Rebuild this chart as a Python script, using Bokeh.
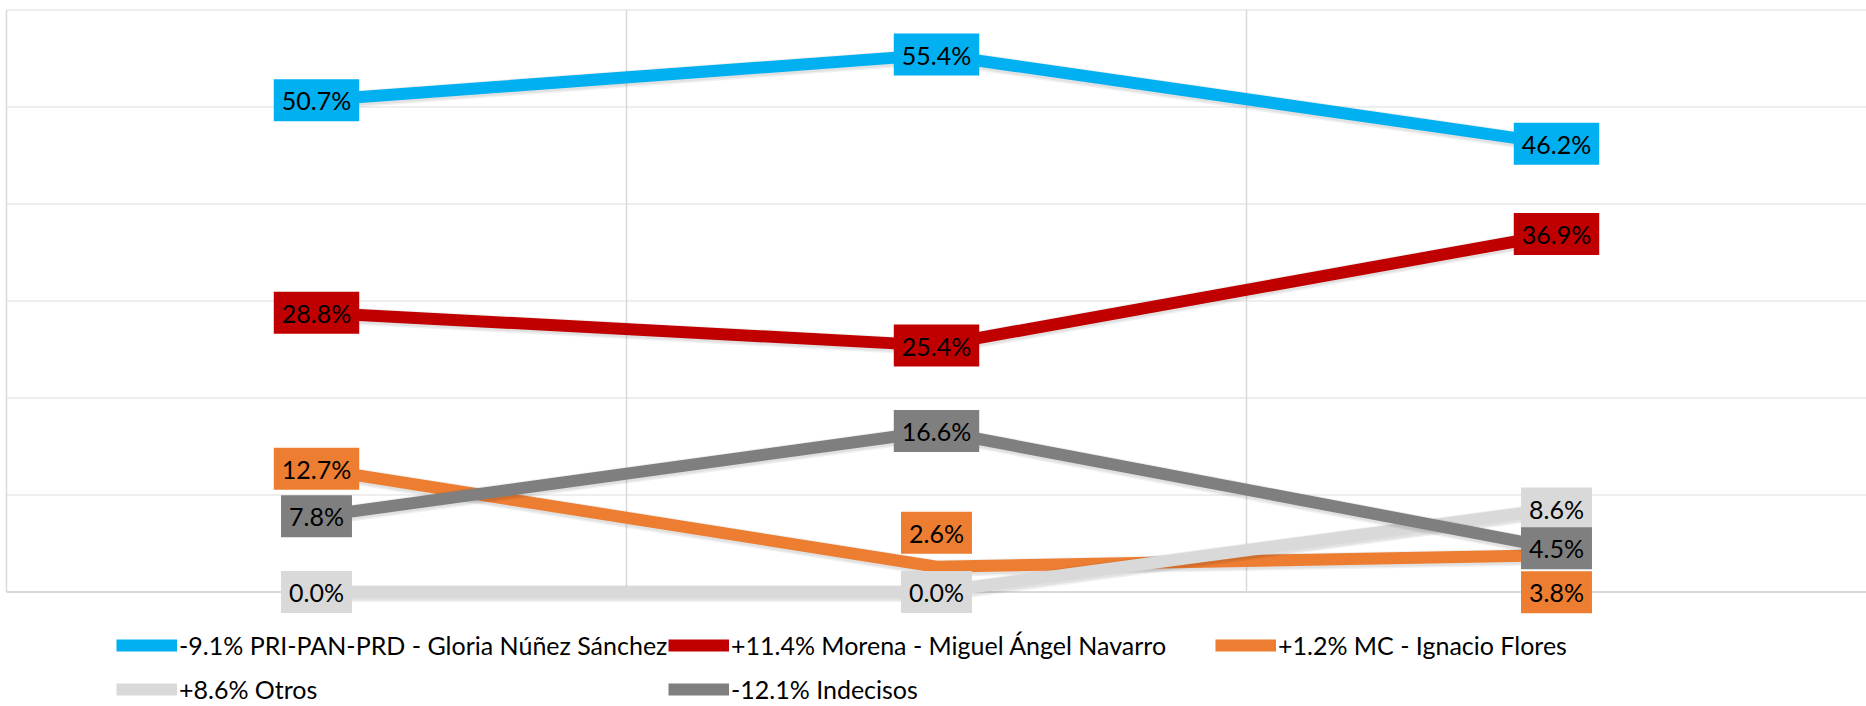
from bokeh.plotting import figure
from bokeh.models import ColumnDataSource, Legend, LegendItem, Range1d
from bokeh.core.properties import value
from bokeh.embed import file_html
from bokeh.resources import INLINE

# ---------------- data ----------------
categories = ["Medición 1", "Medición 2", "Medición 3"]
legend_labels = [
    "-9.1% PRI-PAN-PRD - Gloria Núñez Sánchez",
    "+11.4% Morena - Miguel Ángel Navarro",
    "+1.2% MC - Ignacio Flores",
    "+8.6% Otros",
    "-12.1% Indecisos",
]
pri_pan_prd = [50.7, 55.4, 46.2]
morena = [28.8, 25.4, 36.9]
mc = [12.7, 2.6, 3.8]
otros = [0.0, 0.0, 8.6]
indecisos = [7.8, 16.6, 4.5]
y_ticks = [10, 20, 30, 40, 50, 60]

series = [pri_pan_prd, morena, mc, otros, indecisos]
colors = ["#00B0F0", "#C00000", "#ED7D31", "#D9D9D9", "#7F7F7F"]

# label placement (px, positive = down): 0 = centred on the point
label_shift = [
    [0, 0, 0],
    [0, 0, 0],
    [0, -34, 37],
    [0, 0, 0],
    [0, 0, 0],
]

# ---------------- layout ----------------
FONT = "Lato"
W, H = 1866, 706
CAT_PX = 620.0
X0 = -6.0 / CAT_PX
X1 = X0 + W / CAT_PX
PX_PER_UNIT = 9.7
Y_ZERO_PX = 591.5
Y1 = Y_ZERO_PX / PX_PER_UNIT
Y0 = (Y_ZERO_PX - H) / PX_PER_UNIT
YMAX = y_ticks[-1]

p = figure(width=W, height=H, x_range=Range1d(X0, X1), y_range=Range1d(Y0, Y1),
           output_backend="svg", toolbar_location=None, min_border=0,
           x_axis_type=None, y_axis_type=None)
p.outline_line_color = None
p.background_fill_color = "white"
p.border_fill_color = "white"

xs = [i + 0.5 for i in range(len(categories))]

# horizontal gridlines
p.segment(x0=[0] * len(y_ticks), x1=[X1] * len(y_ticks), y0=y_ticks, y1=y_ticks,
          line_color="#EEEEEE", line_width=2)
# vertical gridlines (category boundaries incl. left edge)
vx = [float(i) for i in range(0, len(categories))]
p.segment(x0=vx, x1=vx, y0=[0] * len(vx), y1=[YMAX] * len(vx),
          line_color="#D9D9D9", line_width=1.5)
# category axis line at 0
p.segment(x0=[0], x1=[X1], y0=[0], y1=[0], line_color="#D9D9D9", line_width=2)

renderers = []
shadow_dy = 1.5 / PX_PER_UNIT
for vals, col in zip(series, colors):
    # soft shadow under each line
    p.line(xs, [v - shadow_dy for v in vals], line_color="black", line_alpha=0.06,
           line_width=17, line_join="round")
    p.line(xs, [v - shadow_dy for v in vals], line_color="black", line_alpha=0.06,
           line_width=14, line_join="round")
    r = p.line(xs, vals, line_color=col, line_width=12, line_join="round")
    renderers.append(r)

# data labels
lx, ly, lt, lc, ld = [], [], [], [], []
for vals, col, shifts in zip(series, colors, label_shift):
    for x, v, s in zip(xs, vals, shifts):
        lx.append(x); ly.append(v); lt.append(f"{v:.1f}%"); lc.append(col); ld.append(s)
src = ColumnDataSource(dict(x=lx, y=ly, text=lt, color=lc, dy=ld))
p.text(x="x", y="y", text="text", source=src, text_align="center", text_baseline="middle",
       text_font=value(FONT), text_font_size="25px", text_color="black",
       background_fill_color="color", padding=(8, 6), y_offset="dy")

# legends (one per item, Excel-like grid)
col_x = [116, 668, 1215]
row_cy = [645, 689]
ITEM_H = 30
for i, (r, lab) in enumerate(zip(renderers, legend_labels)):
    cx = col_x[i % 3]
    cy = row_cy[i // 3]
    leg = Legend(items=[LegendItem(label=lab, renderers=[r])],
                 location=(cx, H - cy - ITEM_H / 2),
                 padding=0, margin=0, spacing=0, border_line_color=None,
                 background_fill_alpha=0, glyph_width=61, glyph_height=ITEM_H,
                 label_height=ITEM_H, label_standoff=2,
                 label_text_font=FONT, label_text_font_size="25px",
                 label_text_color="black")
    p.add_layout(leg)

open("out.html", "w").write(file_html(p, INLINE))
